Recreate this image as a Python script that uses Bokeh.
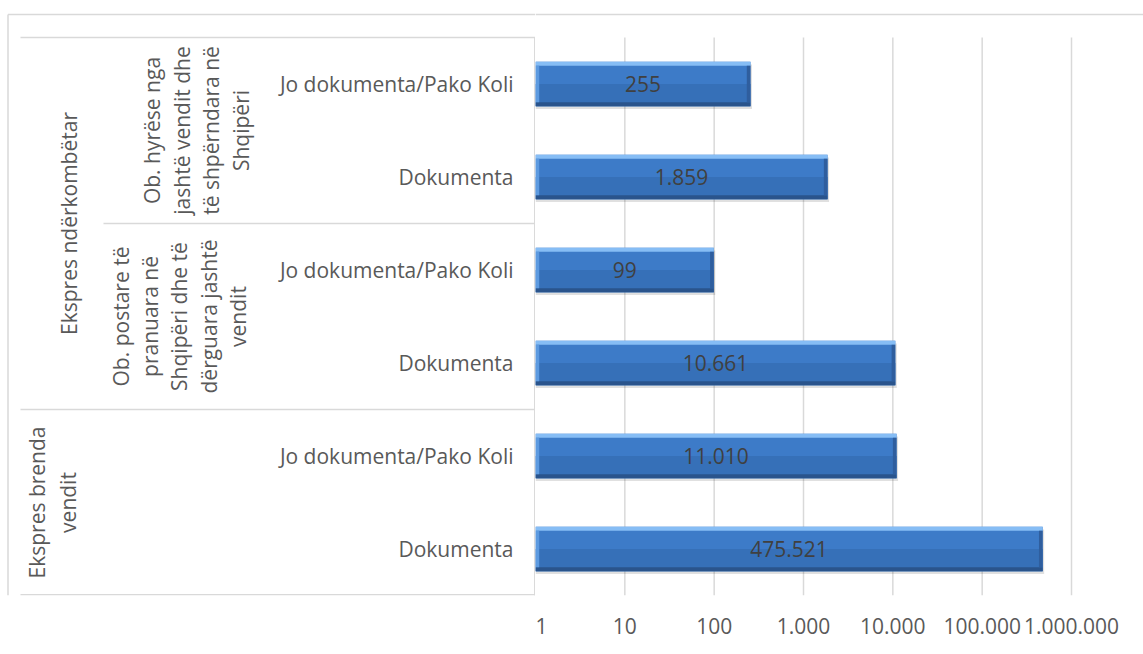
import numpy as np
from bokeh.plotting import figure
from bokeh.layouts import row
from bokeh.models import Range1d, FixedTicker, ColumnDataSource
from bokeh.embed import file_html
from bokeh.resources import INLINE
from bokeh.core.properties import value

# ---- data (bottom to top, as in the chart) ----
categories = ["Dokumenta", "Jo dokumenta/Pako Koli",
              "Dokumenta", "Jo dokumenta/Pako Koli",
              "Dokumenta", "Jo dokumenta/Pako Koli"]
values = [475521, 11010, 10661, 99, 1859, 255]
value_labels = ["475.521", "11.010", "10.661", "99", "1.859", "255"]
sub_groups = ["Ob. postare të\npranuara në\nShqipëri dhe të\ndërguara jashtë\nvendit",
              "Ob. hyrëse nga\njashtë vendit dhe\ntë shpërndara në\nShqipëri"]
groups = ["Ekspres brenda\nvendit", "Ekspres ndërkombëtar"]
x_ticks = [1, 10, 100, 1000, 10000, 100000, 1000000]
x_tick_labels = ["1", "10", "100", "1.000", "10.000", "100.000", "1.000.000"]

FONT = "Open Sans"
GRID = "#d9d9d9"
TXT = "#595959"
FS = "21px"

ys = np.arange(len(values)) + 0.5
vals = np.array(values, dtype=float)

# vertical layout: category axis spans y=0..6, 93 px per category, top at 37px
PX = 93.0
Y_TOP = 6 + 37 / PX
Y_BORDER = 6 + 23 / PX
BOTTOM = 59

# ---------------- left panel: category labels ----------------
L = figure(width=535, height=654, output_backend="svg", toolbar_location=None,
           x_range=Range1d(0, 535), y_range=Range1d(0, Y_TOP),
           x_axis_location=None, y_axis_location=None,
           min_border_left=0, min_border_right=0, min_border_top=0, min_border_bottom=BOTTOM,
           outline_line_color=None)
L.grid.visible = False
L.background_fill_color = "white"
L.border_fill_color = "white"

# chart border (left + top)
L.segment(x0=[7.5, 7.5], y0=[0, Y_BORDER], x1=[7.5, 535], y1=[Y_BORDER, Y_BORDER],
          line_color=GRID, line_width=1.5)
# category axis line
L.segment(x0=[534.3], y0=[0], x1=[534.3], y1=[6], line_color=GRID, line_width=1.5)
# group separators
yb = 0.8 / PX
L.segment(x0=[20, 103, 20, 20], y0=[6, 4, 2, yb], x1=[535, 535, 535, 535], y1=[6, 4, 2, yb],
          line_color=GRID, line_width=1.5)

L.text(x=513, y=ys, text=categories, text_align="right", text_baseline="middle",
       text_font=value(FONT), text_font_size=FS, text_color=TXT)

L.text(x=[179, 196], y=[3, 5], text=sub_groups, angle=np.pi / 2, text_align="center",
       text_baseline="middle", text_font=value(FONT), text_font_size=FS, text_color=TXT,
       text_line_height=1.05)
L.text(x=[52, 68], y=[1, 4], text=groups, angle=np.pi / 2, text_align="center",
       text_baseline="middle", text_font=value(FONT), text_font_size=FS, text_color=TXT,
       text_line_height=1.08)

# ---------------- right panel: bars ----------------
DEC = 536 / 6.0
R = figure(width=608, height=654, x_axis_type="log", output_backend="svg",
           toolbar_location=None, x_range=Range1d(1, 10 ** (6 + 72 / DEC)),
           y_range=Range1d(0, Y_TOP), y_axis_location=None,
           min_border_left=0, min_border_right=0, min_border_top=0, min_border_bottom=BOTTOM,
           outline_line_color=None)
R.background_fill_color = "white"
R.border_fill_color = "white"
R.grid.visible = False

xt = FixedTicker(ticks=x_ticks)
R.xaxis.ticker = xt
R.xaxis.major_label_overrides = {t: l for t, l in zip(x_ticks, x_tick_labels)}
R.xaxis.axis_line_color = None
R.xaxis.major_tick_line_color = None
R.xaxis.minor_tick_line_color = None
R.xaxis.major_label_standoff = 16
R.xaxis.major_label_text_font = FONT
R.xaxis.major_label_text_font_size = FS
R.xaxis.major_label_text_color = TXT

# border top
R.segment(x0=[1], y0=[Y_BORDER], x1=[1e7], y1=[Y_BORDER], line_color=GRID, line_width=1.5)
# gridlines at the tick values
gx = np.array(x_ticks[1:], dtype=float)
R.segment(x0=gx, y0=0, x1=gx, y1=6, line_color=GRID, line_width=1.5)

src = ColumnDataSource(dict(y=ys, v=vals, mid=np.sqrt(vals), lab=value_labels,
                            redge=vals / 1.1))
H = 0.48
R.hbar(y=ys - 0.03, left=1, right=vals * 1.04, height=H, fill_color="#000000", fill_alpha=0.12, line_color=None)
R.hbar(y="y", left=1, right="v", height=H, source=src, fill_color="#3D7BC8", line_color=None)
R.hbar(y=ys - 0.12, left=1, right=vals, height=0.24, fill_color="#3670B8", line_color=None)
R.hbar(y=ys + H / 2 - 0.022, left=1, right=vals, height=0.044, fill_color="#86BDF5", line_color=None)
R.hbar(y=ys - H / 2 + 0.022, left=1, right=vals, height=0.044, fill_color="#2A548C", line_color=None)
R.hbar(y="y", left="redge", right="v", height=H - 0.088, source=src, fill_color="#2F5E9E", line_color=None)
R.hbar(y="y", left=1, right=1.1, height=H - 0.088, source=src, fill_color="#5C9AE0", line_color=None)

R.text(x="mid", y="y", text="lab", source=src, text_align="center", text_baseline="middle",
       text_font=value(FONT), text_font_size=FS, text_color="#404040")

layout = row(L, R, spacing=0)
open("out.html", "w").write(file_html(layout, INLINE))
